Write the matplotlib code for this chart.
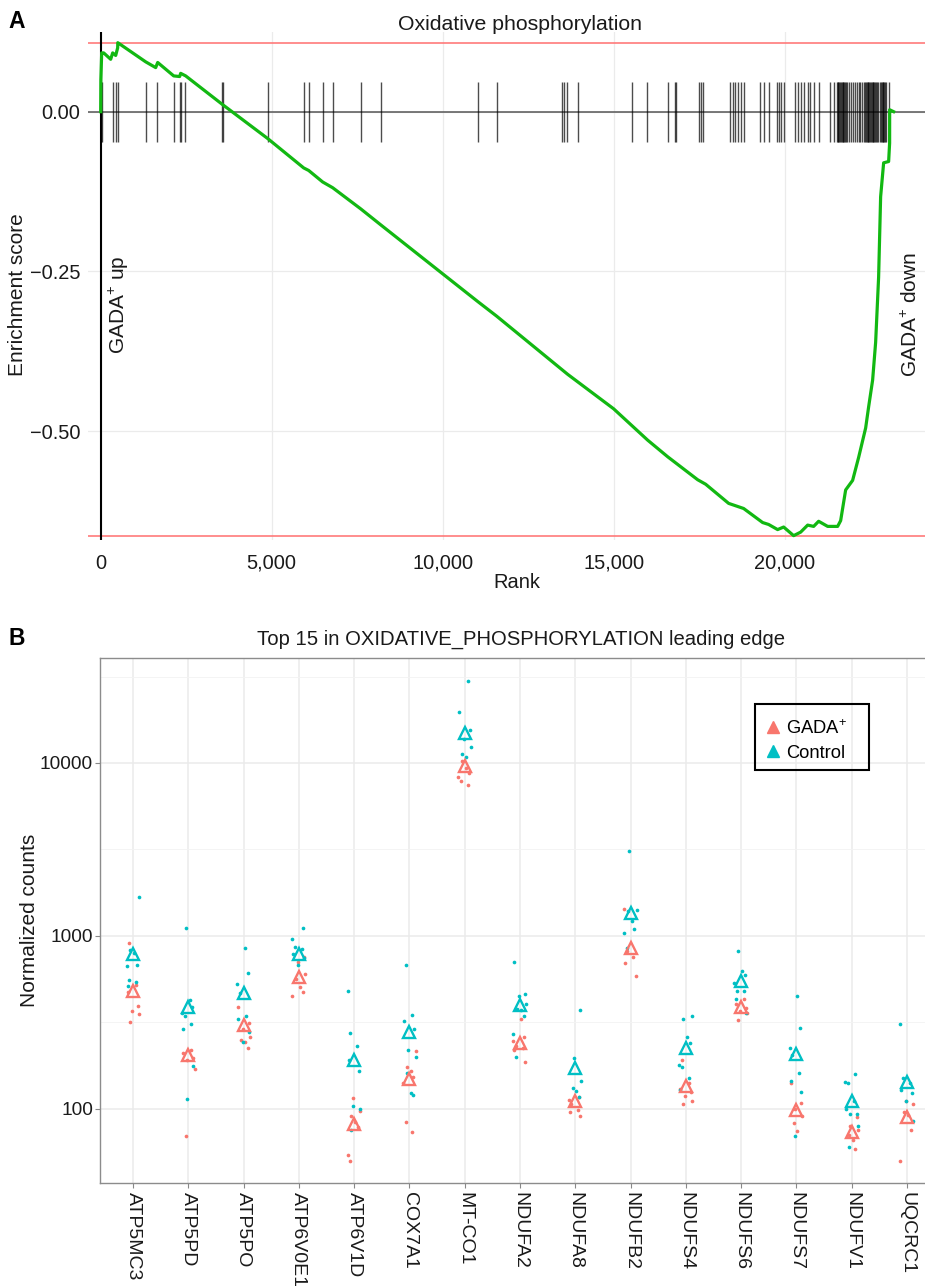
import matplotlib.pyplot as plt
from matplotlib.lines import Line2D
from matplotlib.patches import Rectangle
from matplotlib.ticker import FixedLocator, NullFormatter

plt.rcParams['font.family'] = ['Liberation Sans', 'DejaVu Sans']
plt.rcParams['mathtext.fontset'] = 'custom'
plt.rcParams['mathtext.rm'] = 'Liberation Sans'
plt.rcParams['mathtext.it'] = 'Liberation Sans:italic'
plt.rcParams['mathtext.bf'] = 'Liberation Sans:bold'

# ---- panel A: running enrichment score ----
HIT_RANKS = [10, 29, 351, 439, 497, 1316, 1637, 2135, 2310, 2354, 2456, 3550, 3580,
             4883, 5936, 6082, 6491, 6784, 7602, 8187,
             11023, 11579, 13480, 13538, 13626, 13947, 15526, 15965, 16579, 16800, 16830,
             17486, 17544, 17602, 18392, 18479, 18538, 18626, 18713, 18801, 19269, 19386,
             19532, 19766, 19825, 19883, 19971, 20292, 20380, 20468, 20556, 20673, 20731,
             20848, 20994, 21316, 21433,
             21525, 21550, 21572, 21598, 21620, 21648, 21670, 21695, 21720, 21742, 21768,
             21790, 21835, 21892, 21940, 22001, 22048, 22110, 22165, 22214, 22270, 22320,
             22358, 22380, 22405, 22428, 22452, 22478, 22500, 22526, 22548, 22574, 22598,
             22622, 22645, 22668, 22690, 22740, 22792, 22815, 22838, 22862, 22885, 22910,
             22932, 22955, 23041]

CURVE_RANKS = [0, 5, 29, 88, 292, 351, 439, 497, 500, 1316, 1608, 1667, 2135, 2310,
               2339, 2485, 3567, 4883, 5936, 6082, 6491, 6784, 7602, 8187, 11023, 11579,
               13655, 15000, 15994, 16579, 17457, 17690, 18363, 18801, 19357, 19532,
               19795, 19971, 20263, 20468, 20673, 20848, 20994, 21258, 21550, 21638,
               21784, 21988, 22164, 22369, 22456, 22573, 22661, 22748, 22807, 22895,
               23041, 23070, 23071, 23187]
CURVE_ES = [0.0, 0.050, 0.092, 0.092, 0.082, 0.092, 0.088, 0.100, 0.108, 0.078, 0.069,
            0.077, 0.056, 0.055, 0.060, 0.056, 0.011, -0.042, -0.088, -0.092, -0.110,
            -0.119, -0.152, -0.177, -0.297, -0.320, -0.411, -0.465, -0.514, -0.540,
            -0.576, -0.583, -0.613, -0.621, -0.643, -0.646, -0.654, -0.650, -0.6635,
            -0.658, -0.647, -0.649, -0.641, -0.649, -0.649, -0.640, -0.592, -0.577,
            -0.541, -0.495, -0.462, -0.420, -0.361, -0.259, -0.133, -0.080, -0.078,
            -0.049, 0.003, 0.0]

ES_MAX = 0.108
ES_MIN = -0.6635
RANK_TICKS = [0, 5000, 10000, 15000, 20000]
RANK_TICK_LABELS = ['0', '5,000', '10,000', '15,000', '20,000']
ES_TICKS = [0.0, -0.25, -0.50]
ES_TICK_LABELS = ['0.00', '\u22120.25', '\u22120.50']

# ---- panel B: normalized counts of leading edge genes ----
GENES = ['ATP5MC3', 'ATP5PD', 'ATP5PO', 'ATP6V0E1', 'ATP6V1D', 'COX7A1', 'MT-CO1',
         'NDUFA2', 'NDUFA8', 'NDUFB2', 'NDUFS4', 'NDUFS6', 'NDUFS7', 'NDUFV1', 'UQCRC1']

GADA_COUNTS = [
    [907, 520, 470, 390, 365, 352, 318],
    [219, 210, 195, 191, 169, 69],
    [385, 312, 290, 259, 250, 242, 225],
    [750, 701, 600, 560, 505, 470, 445],
    [115, 97, 91, 83, 78, 54, 50],
    [214, 173, 164, 153, 140, 83, 73],
    [10300, 9300, 8800, 8300, 7900, 7500],
    [329, 261, 245, 229, 223, 219, 187],
    [116, 112, 106, 98, 95, 90],
    [1432, 811, 750, 695, 581],
    [191, 140, 130, 125, 118, 111, 106],
    [432, 404, 380, 365, 357, 324],
    [140, 107, 100, 90, 82, 74],
    [89, 79, 75, 70, 66, 58],
    [111, 106, 95, 92, 75, 50],
]
CONTROL_COUNTS = [
    [1667, 822, 790, 680, 664, 556, 543, 509],
    [1107, 422, 385, 359, 341, 309, 288, 177, 114],
    [849, 608, 528, 466, 341, 331, 277, 242],
    [1107, 961, 860, 837, 787, 743, 680],
    [476, 273, 229, 190, 164, 104, 100, 75],
    [680, 349, 322, 288, 219, 200, 160, 123, 119],
    [30000, 19800, 15500, 13800, 12300, 11200, 10800],
    [701, 459, 445, 400, 378, 373, 344, 270, 200],
    [373, 196, 145, 132, 127, 117],
    [3078, 1416, 1390, 1211, 1093, 1036, 849],
    [341, 331, 258, 239, 179, 175, 151, 128],
    [811, 629, 589, 532, 480, 476, 430, 359],
    [445, 292, 224, 205, 160, 145, 124, 69],
    [158, 142, 140, 110, 99, 93, 93, 79, 60],
    [309, 150, 140, 128, 123, 110, 85],
]
GADA_MEAN = [480, 203, 303, 574, 81, 148, 9640, 241, 111, 849, 135, 385, 98, 73, 89]
CONTROL_MEAN = [787, 385, 466, 787, 190, 277, 14970, 395, 171, 1352, 223, 545, 207, 110, 142]

COUNT_TICKS = [100, 1000, 10000]
COUNT_TICK_LABELS = ['100', '1000', '10000']

# fixed horizontal spread for the dots (in category units)
JITTER = [-0.07, 0.05, -0.10, 0.09, -0.02, 0.11, -0.05, 0.02, 0.07, -0.12]

GADA_COLOR = '#F8766D'
CONTROL_COLOR = '#00BFC4'
TEXT_COLOR = '#1a1a1a'

W, H = 925, 1288


def box(left, top, right, bottom):
    # pixel box -> figure fraction rect
    return [left / W, 1 - bottom / H, (right - left) / W, (bottom - top) / H]


fig = plt.figure(figsize=(W / 100, H / 100), dpi=100)

# ---------------- panel A ----------------
axA = fig.add_axes(box(88, 32, 952, 540))
axA.set_xlim(-371, 24894)
axA.set_ylim(-0.6703, 0.1247)
for s in axA.spines.values():
    s.set_visible(False)
axA.set_xticks(RANK_TICKS)
axA.set_xticklabels(RANK_TICK_LABELS)
axA.set_yticks(ES_TICKS)
axA.set_yticklabels(ES_TICK_LABELS)
axA.tick_params(length=0, labelsize=14.4, labelcolor=TEXT_COLOR)
axA.tick_params(axis='x', pad=10)
axA.tick_params(axis='y', pad=5.5)
axA.grid(color='#ebebeb', lw=0.9)
axA.set_axisbelow(True)

axA.axhline(ES_MAX, color='#ff7a7a', lw=1.2, zorder=2)
axA.axhline(ES_MIN, color='#ff7a7a', lw=1.2, zorder=2)
axA.axhline(0, color='#555555', lw=1.1, zorder=2)
axA.axvline(0, color='black', lw=1.5, zorder=3)
axA.vlines(HIT_RANKS, -0.047, 0.047, color='black', lw=1.0, alpha=0.7, zorder=3)
axA.plot(CURVE_RANKS, CURVE_ES, color='#12b812', lw=2.3, zorder=4)

axA.text(526, -0.3025, 'GADA$^{+}$ up', rotation=90, ha='center', va='center',
         fontsize=15, color=TEXT_COLOR)
axA.text(23680, -0.318, 'GADA$^{+}$ down', rotation=90, ha='center', va='center',
         fontsize=15, color=TEXT_COLOR)

fig.text(520 / W, 1 - 30 / H, 'Oxidative phosphorylation', ha='center', va='baseline',
         fontsize=15.3, color=TEXT_COLOR)
fig.text(18 / W, 1 - 295 / H, 'Enrichment score', rotation=90, ha='center', va='center',
         fontsize=15, color=TEXT_COLOR)
fig.text(517 / W, 1 - 582 / H, 'Rank', ha='center', va='center', fontsize=14.5,
         color=TEXT_COLOR)
fig.text(8 / W, 1 - 28 / H, 'A', ha='left', va='baseline', fontsize=16.5,
         fontweight='bold')

# ---------------- panel B ----------------
axB = fig.add_axes(box(100, 658, 940, 1183))
axB.set_yscale('log')
axB.set_xlim(-0.6, len(GENES) - 0.4)
axB.set_ylim(37.05, 40530)

for i, gene in enumerate(GENES):
    g = GADA_COUNTS[i]
    c = CONTROL_COUNTS[i]
    gx = [i + JITTER[(k + i) % len(JITTER)] for k in range(len(g))]
    cx = [i + JITTER[(k + i + 5) % len(JITTER)] for k in range(len(c))]
    axB.scatter(gx, g, s=7, color=GADA_COLOR, linewidths=0, zorder=3)
    axB.scatter(cx, c, s=7, color=CONTROL_COLOR, linewidths=0, zorder=3)

xs = list(range(len(GENES)))
axB.plot(xs, GADA_MEAN, ls='none', marker='^', ms=8, mfc='none', mec=GADA_COLOR,
         mew=1.7, zorder=4)
axB.plot(xs, CONTROL_MEAN, ls='none', marker='^', ms=8, mfc='none', mec=CONTROL_COLOR,
         mew=1.7, zorder=4)

axB.set_xticks(xs)
axB.set_xticklabels(GENES, rotation=-90, ha='center', va='top')
axB.yaxis.set_major_locator(FixedLocator(COUNT_TICKS))
axB.yaxis.set_major_formatter(plt.FixedFormatter(COUNT_TICK_LABELS))
axB.yaxis.set_minor_locator(FixedLocator([10 ** 1.5, 10 ** 2.5, 10 ** 3.5, 10 ** 4.5]))
axB.yaxis.set_minor_formatter(NullFormatter())
axB.tick_params(which='major', length=3.5, width=0.8, color='#888888',
                labelcolor=TEXT_COLOR)
axB.tick_params(which='minor', length=0)
axB.tick_params(axis='y', labelsize=13.7, pad=1.5)
axB.tick_params(axis='x', labelsize=14, pad=3)
axB.grid(which='major', color='#ebebeb', lw=1.1)
axB.grid(which='minor', axis='y', color='#f3f3f3', lw=0.6)
axB.set_axisbelow(True)
for s in axB.spines.values():
    s.set_color('#8c8c8c')
    s.set_linewidth(1.0)

# legend: entries without frame, box drawn separately
handles = [Line2D([], [], ls='none', marker='^', ms=9, color=GADA_COLOR),
           Line2D([], [], ls='none', marker='^', ms=9, color=CONTROL_COLOR)]
axB.legend(handles, ['GADA$^{+}$', 'Control'], loc='upper left',
           bbox_to_anchor=(766 / W, 1 - 719 / H), bbox_transform=fig.transFigure,
           fontsize=13.2, frameon=False, borderpad=0, labelspacing=0.38,
           handlelength=0.8, handletextpad=0.3, borderaxespad=0)
fig.add_artist(Rectangle((755 / W, 1 - 770 / H), 114 / W, 66 / H,
                         transform=fig.transFigure, facecolor='none',
                         edgecolor='black', lw=1.5, zorder=5))

fig.text(521 / W, 1 - 645 / H, 'Top 15 in OXIDATIVE_PHOSPHORYLATION leading edge',
         ha='center', va='baseline', fontsize=14.6, color=TEXT_COLOR)
fig.text(30 / W, 1 - 920 / H, 'Normalized counts', rotation=90, ha='center',
         va='center', fontsize=15, color=TEXT_COLOR)
fig.text(8 / W, 1 - 645 / H, 'B', ha='left', va='baseline', fontsize=16.5,
         fontweight='bold')

fig.savefig('out.png', dpi=100)
